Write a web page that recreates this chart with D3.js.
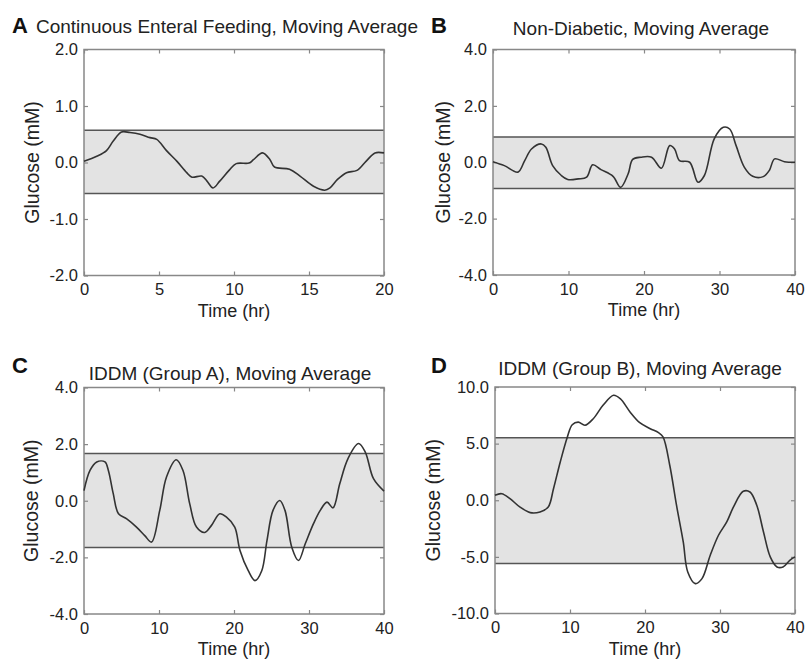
<!DOCTYPE html>
<html>
<head>
<meta charset="utf-8">
<script src="https://cdn.jsdelivr.net/npm/d3@7"></script>
<style>
  html, body { margin: 0; padding: 0; background: #fff; }
  svg { display: block; font-family: "Liberation Sans", Arial, Helvetica, sans-serif; }
</style>
</head>
<body>
<svg id="chart" width="805" height="661"></svg>
<script>
// ---------------- DATA ----------------
const panelLetters = ["A", "B", "C", "D"];
const panelTitles = [
  "Continuous Enteral Feeding, Moving Average",
  "Non-Diabetic, Moving Average",
  "IDDM (Group A), Moving Average",
  "IDDM (Group B), Moving Average"
];
const xLabel = "Time (hr)";
const yLabel = "Glucose (mM)";

const xDomainA = [0, 20];
const xDomainB = [0, 40];
const xDomainC = [0, 40];
const xDomainD = [0, 40];
const yDomainA = [-2, 2];
const yDomainB = [-4, 4];
const yDomainC = [-4, 4];
const yDomainD = [-10, 10];

const xTicksA = [0, 5, 10, 15, 20];
const xTicksB = [0, 10, 20, 30, 40];
const xTicksC = [0, 10, 20, 30, 40];
const xTicksD = [0, 10, 20, 30, 40];
const yTicksA = [-2, -1, 0, 1, 2];
const yTicksB = [-4, -2, 0, 2, 4];
const yTicksC = [-4, -2, 0, 2, 4];
const yTicksD = [-10, -5, 0, 5, 10];

// normal range band (lower, upper)
const bandA = [-0.55, 0.57];
const bandB = [-0.93, 0.9];
const bandC = [-1.65, 1.67];
const bandD = [-5.58, 5.52];

// moving-average glucose series (time in hr, glucose in mM)
const timeA = [0, 0.85, 1.5, 1.95, 2.5, 3.07, 3.73, 4.4, 4.85, 5.5, 6.2, 6.85, 7.2, 7.85, 8.2, 8.6, 9.05, 9.7, 10.15, 11.0, 11.3, 11.9, 12.4, 12.7, 13.7, 14.4, 15.3, 16.05, 16.4, 16.9, 17.5, 18.2, 18.8, 19.4, 20];
const glucA = [0.02, 0.11, 0.21, 0.38, 0.54, 0.53, 0.50, 0.44, 0.41, 0.21, 0.02, -0.18, -0.26, -0.24, -0.33, -0.45, -0.33, -0.13, -0.02, -0.01, 0.05, 0.17, 0.05, -0.08, -0.12, -0.24, -0.42, -0.49, -0.45, -0.30, -0.18, -0.14, 0.02, 0.17, 0.17];

const timeB = [0, 1.5, 3.3, 4.2, 5.1, 6.4, 7.0, 7.9, 9.05, 9.9, 11.3, 12.4, 13.2, 14.3, 15.9, 16.9, 17.9, 18.5, 19.6, 21.0, 22.3, 23.4, 24.05, 24.7, 26.05, 27.15, 28.0, 29.3, 30.5, 31.35, 32.2, 33.3, 34.4, 35.8, 36.6, 37.3, 38.6, 40];
const glucB = [0.02, -0.12, -0.35, 0.06, 0.47, 0.65, 0.53, -0.12, -0.47, -0.61, -0.59, -0.53, -0.09, -0.26, -0.5, -0.89, -0.41, 0.1, 0.18, 0.18, -0.21, 0.59, 0.47, 0.06, 0.0, -0.71, -0.47, 0.83, 1.24, 1.18, 0.59, -0.18, -0.5, -0.51, -0.29, 0.12, 0.02, 0.0];

const timeC = [0, 0.8, 1.7, 2.8, 3.25, 3.9, 4.6, 5.7, 7.0, 8.1, 9.0, 10.1, 11.0, 12.3, 13.2, 14.1, 15.0, 16.1, 17.0, 18.1, 19.0, 20.1, 20.8, 21.9, 22.8, 23.7, 24.4, 25.2, 26.1, 26.8, 27.7, 28.6, 29.5, 30.6, 31.5, 32.4, 33.2, 34.1, 35.2, 36.6, 37.5, 38.6, 40];
const glucC = [0.36, 1.07, 1.37, 1.37, 1.07, 0.25, -0.46, -0.64, -0.93, -1.23, -1.46, -0.34, 0.84, 1.45, 1.07, -0.11, -0.93, -1.12, -0.87, -0.46, -0.58, -0.93, -1.76, -2.47, -2.82, -2.47, -1.4, -0.34, 0.01, -0.34, -1.64, -2.11, -1.52, -0.81, -0.34, -0.05, -0.25, 0.6, 1.49, 2.02, 1.72, 0.78, 0.34];

const timeD = [0, 0.9, 2.0, 3.3, 4.7, 6.0, 7.1, 7.8, 8.7, 9.65, 10.3, 11.1, 12.0, 13.1, 14.4, 15.8, 16.7, 18.0, 19.3, 20.7, 21.8, 22.4, 23.3, 24.2, 25.1, 25.7, 26.7, 27.6, 28.7, 29.8, 30.9, 31.8, 33.1, 34.0, 34.9, 35.8, 36.7, 37.6, 38.4, 39.3, 40];
const glucD = [0.44, 0.58, 0.14, -0.59, -1.09, -1.03, -0.59, 1.02, 3.38, 5.59, 6.67, 6.9, 6.62, 7.2, 8.38, 9.27, 8.97, 7.8, 6.85, 6.32, 5.97, 5.59, 3.09, -0.44, -3.68, -6.33, -7.36, -6.92, -4.85, -3.09, -1.91, -0.59, 0.79, 0.73, -0.44, -2.8, -5.0, -5.89, -5.89, -5.3, -5.0];

// ---------------- LAYOUT ----------------
const layout = [
  { left: 84,  right: 384, top: 49.5, bottom: 275.5, letterX: 12,  letterY: 33,  titleX: 227, titleY: 33,  ylabX: 32 },
  { left: 493, right: 795, top: 49.5, bottom: 275,   letterX: 431, letterY: 33,  titleX: 641, titleY: 35,  ylabX: 443 },
  { left: 84,  right: 384, top: 387.5, bottom: 614,  letterX: 12,  letterY: 373, titleX: 230, titleY: 380, ylabX: 31 },
  { left: 495, right: 795, top: 387, bottom: 613.5,  letterX: 431, letterY: 373, titleX: 640, titleY: 375, ylabX: 433 }
];

const panels = [
  { xd: xDomainA, yd: yDomainA, xt: xTicksA, yt: yTicksA, band: bandA, t: timeA, g: glucA },
  { xd: xDomainB, yd: yDomainB, xt: xTicksB, yt: yTicksB, band: bandB, t: timeB, g: glucB },
  { xd: xDomainC, yd: yDomainC, xt: xTicksC, yt: yTicksC, band: bandC, t: timeC, g: glucC },
  { xd: xDomainD, yd: yDomainD, xt: xTicksD, yt: yTicksD, band: bandD, t: timeD, g: glucD }
];

const svg = d3.select("#chart");
const fmtY = v => (v < 0 ? "-" : "") + Math.abs(v).toFixed(1);

panels.forEach((p, i) => {
  const L = layout[i];
  const x = d3.scaleLinear().domain(p.xd).range([L.left, L.right]);
  const y = d3.scaleLinear().domain(p.yd).range([L.bottom, L.top]);
  const g = svg.append("g");

  // band
  g.append("rect")
    .attr("x", x(p.xd[0])).attr("width", x(p.xd[1]) - x(p.xd[0]))
    .attr("y", y(p.band[1])).attr("height", y(p.band[0]) - y(p.band[1]))
    .attr("fill", "#e3e3e3");
  p.band.forEach(b => {
    g.append("line")
      .attr("x1", x(p.xd[0])).attr("x2", x(p.xd[1]))
      .attr("y1", y(b)).attr("y2", y(b))
      .attr("stroke", "#555").attr("stroke-width", 1.5);
  });

  // frame
  g.append("rect")
    .attr("x", L.left).attr("y", L.top)
    .attr("width", L.right - L.left).attr("height", L.bottom - L.top)
    .attr("fill", "none").attr("stroke", "#888").attr("stroke-width", 1.5);

  // axes (ticks inward)
  const axB = d3.axisBottom(x).tickValues(p.xt).tickSizeInner(-4).tickSizeOuter(0).tickPadding(8).tickFormat(d3.format("d"));
  const axL = d3.axisLeft(y).tickValues(p.yt).tickSizeInner(-4).tickSizeOuter(0).tickPadding(6).tickFormat(fmtY);
  const axT = d3.axisTop(x).tickValues(p.xt).tickSizeInner(-4).tickSizeOuter(0).tickFormat("");
  const axR = d3.axisRight(y).tickValues(p.yt).tickSizeInner(-4).tickSizeOuter(0).tickFormat("");

  const styleAxis = sel => {
    sel.select(".domain").remove();
    sel.selectAll(".tick line").attr("stroke", "#888").attr("stroke-width", 1.2);
    sel.selectAll(".tick text").attr("fill", "#222").style("font-size", "16.5px");
  };
  g.append("g").attr("transform", `translate(0,${L.bottom})`).call(axB).call(styleAxis);
  g.append("g").attr("transform", `translate(${L.left},0)`).call(axL).call(styleAxis);
  g.append("g").attr("transform", `translate(0,${L.top})`).call(axT).call(styleAxis);
  g.append("g").attr("transform", `translate(${L.right},0)`).call(axR).call(styleAxis);

  // curve
  const pts = p.t.map((t, k) => [t, p.g[k]]);
  const line = d3.line().x(d => x(d[0])).y(d => y(d[1])).curve(d3.curveCatmullRom.alpha(0.5));
  g.append("path").datum(pts).attr("d", line)
    .attr("fill", "none").attr("stroke", "#333").attr("stroke-width", 1.6);

  // axis labels
  g.append("text")
    .attr("x", (L.left + L.right) / 2).attr("y", L.bottom + 41)
    .attr("text-anchor", "middle").attr("fill", "#222")
    .style("font-size", "18px").text(xLabel);
  g.append("text")
    .attr("transform", `translate(${L.ylabX},${(L.top + L.bottom) / 2}) rotate(-90)`)
    .attr("text-anchor", "middle").attr("dominant-baseline", "central").attr("fill", "#222")
    .style("font-size", "19.5px").text(yLabel);

  // title and letter
  g.append("text")
    .attr("x", L.titleX).attr("y", L.titleY)
    .attr("text-anchor", "middle").attr("fill", "#222")
    .style("font-size", "19px").text(panelTitles[i]);
  g.append("text")
    .attr("x", L.letterX).attr("y", L.letterY)
    .attr("fill", "#111").style("font-size", "22px").style("font-weight", "bold")
    .text(panelLetters[i]);
});
</script>
</body>
</html>
